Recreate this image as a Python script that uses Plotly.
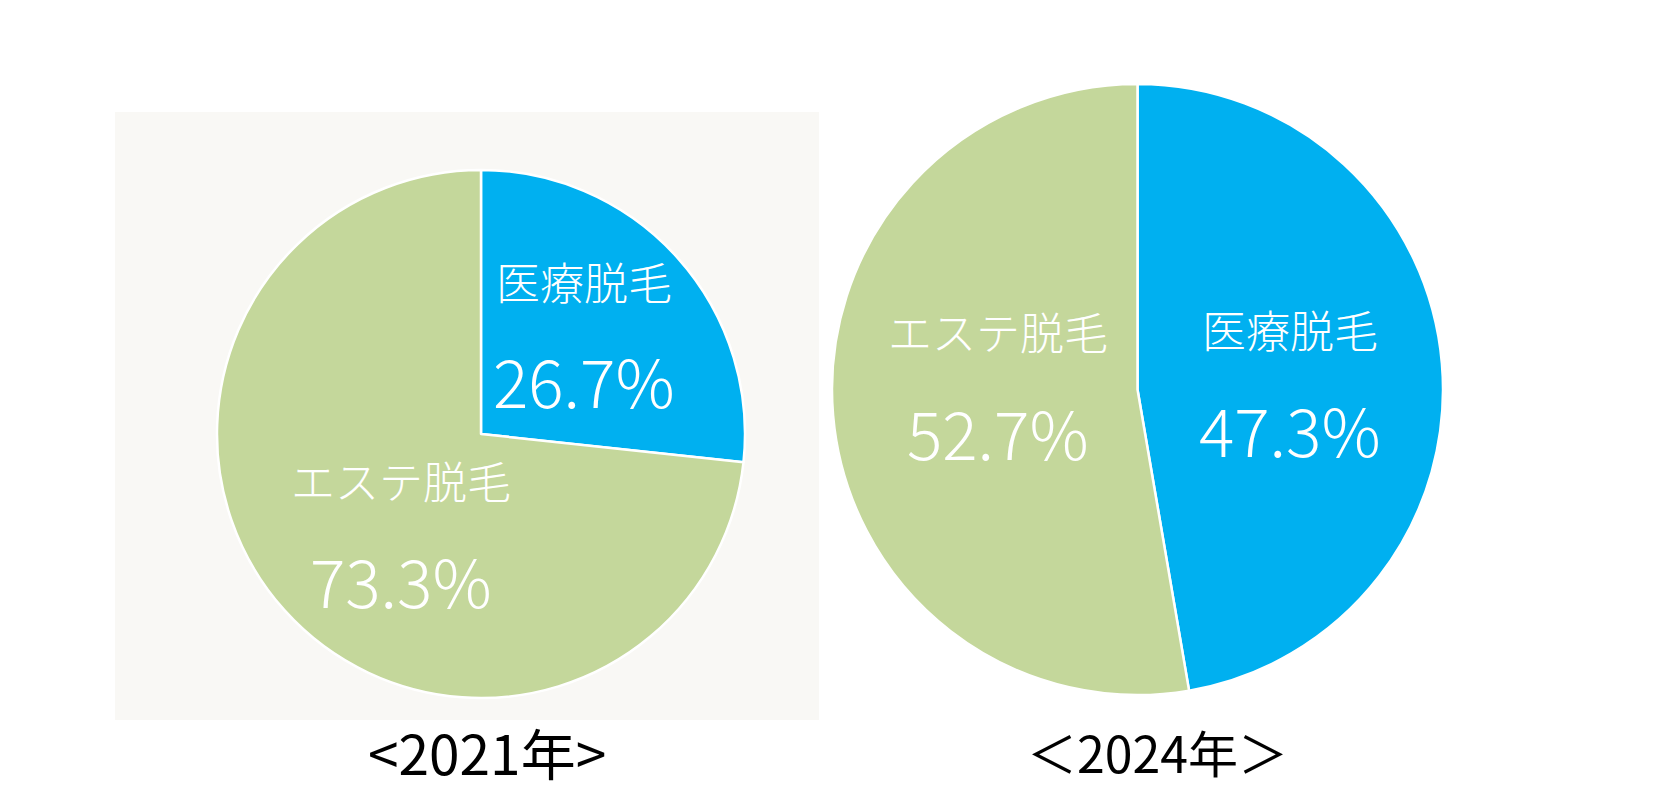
import plotly.graph_objects as go

# shares of hair removal type
labels = ["医療脱毛", "エステ脱毛"]
share_2021 = [26.7, 73.3]
share_2024 = [47.3, 52.7]
titles = ["<2021年>", "＜2024年＞"]
colors = ["#00B0F0", "#C4D79B"]

W, H = 1667, 811
FONT = "Noto Sans CJK JP, Noto Sans, sans-serif"


def px(x, y):
    return x / W, 1 - y / H


fig = go.Figure()

# left pie (2021) and right pie (2024)
fig.add_trace(go.Pie(labels=labels, values=share_2021, sort=False, direction="clockwise",
                     rotation=0, marker=dict(colors=colors, line=dict(color="white", width=2.5)),
                     textinfo="none", hoverinfo="label+percent", showlegend=False,
                     domain=dict(x=[209 / W, 737 / W], y=[1 - 690 / H, 1 - 162 / H])))
fig.add_trace(go.Pie(labels=labels, values=share_2024, sort=False, direction="clockwise",
                     rotation=0, marker=dict(colors=colors, line=dict(color="white", width=2.5)),
                     textinfo="none", hoverinfo="label+percent", showlegend=False,
                     domain=dict(x=[824 / W, 1435 / W], y=[1 - 687 / H, 1 - 76 / H])))

# grey panel behind the 2021 pie
x0, y1 = px(107, 104)
x1, y0 = px(811, 712)
fig.add_shape(type="rect", xref="paper", yref="paper", x0=x0, x1=x1, y0=y0, y1=y1,
              fillcolor="#F9F8F5", line=dict(width=0), layer="below")

# slice labels: name on top, share below
label_pos = {
    ("2021", 0): (576, 273, 371),
    ("2021", 1): (393, 472, 571),
    ("2024", 0): (1282, 321, 420),
    ("2024", 1): (990, 323, 423),
}
for year, vals in (("2021", share_2021), ("2024", share_2024)):
    for i, name in enumerate(labels):
        cx, ny, vy = label_pos[(year, i)]
        ax, ay = px(cx, ny)
        fig.add_annotation(x=ax, y=ay, xref="paper", yref="paper", text=name, showarrow=False,
                           xanchor="center", yanchor="middle",
                           font=dict(family=FONT, size=44, color="white", weight=300))
        ax, ay = px(cx, vy)
        fig.add_annotation(x=ax, y=ay, xref="paper", yref="paper", text=f"{vals[i]}%",
                           showarrow=False, xanchor="center", yanchor="middle",
                           font=dict(family=FONT, size=66, color="white", weight=300))

# year captions under each pie
for t, cx, fs in zip(titles, (479, 1149), (55, 50)):
    ax, ay = px(cx, 743)
    fig.add_annotation(x=ax, y=ay, xref="paper", yref="paper", text=t, showarrow=False,
                       xanchor="center", yanchor="middle",
                       font=dict(family=FONT, size=fs, color="black"))

fig.update_layout(width=W, height=H, margin=dict(l=0, r=0, t=0, b=0),
                  paper_bgcolor="white", plot_bgcolor="white")

fig.write_html("out.html")
